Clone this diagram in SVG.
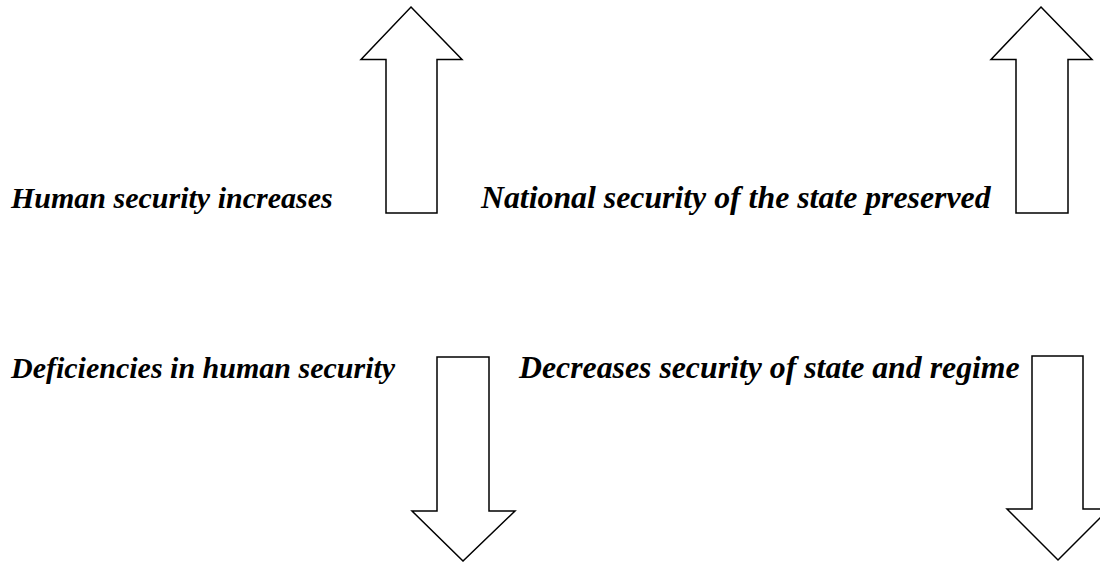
<svg xmlns="http://www.w3.org/2000/svg" width="1100" height="562" viewBox="0 0 1100 562">
<style>
.lbl{font-family:"Liberation Serif","Times New Roman",serif;font-size:30px;font-weight:bold;font-style:italic;fill:#000}
.lbl.r{font-size:31.8px}
.arr{fill:#fff;stroke:#000;stroke-width:1.5;stroke-linejoin:miter}
</style>
<rect width="1100" height="562" fill="#fff"/>
<g id="label-human-increases"><text class="lbl" x="11" y="208">Human security increases</text></g>
<g id="label-national-preserved"><text class="lbl r" x="481" y="208">National security of the state preserved</text></g>
<g id="label-human-deficiencies"><text class="lbl" x="11" y="378">Deficiencies in human security</text></g>
<g id="label-state-decreases"><text class="lbl r" x="519" y="378">Decreases security of state and regime</text></g>
<g id="connectors">
<polygon id="arrow-up-1" class="arr" points="411,7 462,59.5 437,59.5 437,213 386,213 386,59.5 361,59.5"/>
<polygon id="arrow-up-2" class="arr" points="1041,7 1092,59.5 1068,59.5 1068,213 1016,213 1016,59.5 991,59.5"/>
<polygon id="arrow-down-1" class="arr" points="437,357 489,357 489,511 515,511 463,561 412,511 437,511"/>
<polygon id="arrow-down-2" class="arr" points="1032,356 1083,356 1083,509 1109,509 1058,560 1007,509 1032,509"/>
</g>
</svg>
